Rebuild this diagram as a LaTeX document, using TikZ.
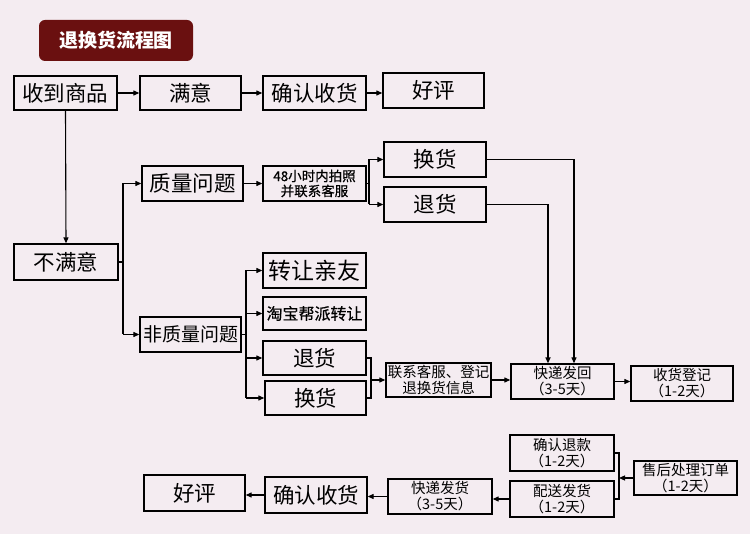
\documentclass[tikz,border=0pt]{standalone}
\usepackage{fontspec}
\newfontfamily\cjk{Noto Sans CJK SC}
\newfontfamily\cjkm[FakeBold=0.6]{Noto Sans CJK SC}
\usetikzlibrary{arrows.meta}
\definecolor{bgc}{HTML}{F4ECF1}
\definecolor{titlec}{HTML}{6A1010}
\tikzset{
  box/.style={draw=black, line width=1.3pt, fill=none, inner sep=0pt, align=center, text=black},
  big/.style={box, font=\cjk\fontsize{21.5}{23}\selectfont},
  mid/.style={box, font=\cjk\fontsize{19}{21}\selectfont},
  small/.style={box, font=\cjk\fontsize{14.5}{16}\selectfont},
  smallb/.style={box, font=\cjkm\fontsize{13.5}{15}\selectfont},
  ln/.style={draw=black, line width=1.1pt},
  arr/.style={ln, -{Triangle[length=6pt,width=5pt]}},
}
\begin{document}
\begin{tikzpicture}[x=1pt,y=-1pt]
\fill[bgc] (0,0) rectangle (750,534);
\useasboundingbox (0,0) rectangle (750,534);
% title
\node[fill=titlec, rounded corners=6pt, minimum width=154pt, minimum height=41pt, text=white, font=\cjk\bfseries\fontsize{19}{21}\selectfont] (title) at (116,40.5) {退换货流程图};
% top row
\node[big, minimum width=103pt, minimum height=34pt] (a1) at (65.5,93) {收到商品};
\node[big, minimum width=101pt, minimum height=34pt] (a2) at (190.5,93) {满意};
\node[big, minimum width=103pt, minimum height=34pt] (a3) at (314.5,93) {确认收货};
\node[big, minimum width=101pt, minimum height=35pt] (a4) at (433.5,90.5) {好评};
% left
\node[big, minimum width=104pt, minimum height=36pt] (b) at (66,262) {不满意};
\node[big, minimum width=101pt, minimum height=35pt] (q) at (192.5,183.5) {质量问题};
\node[mid, minimum width=101pt, minimum height=35pt] (nq) at (190.5,334.5) {非质量问题};
% quality branch
\node[smallb, minimum width=103pt, minimum height=35pt] (h48) at (314.5,183.5) {48小时内拍照\\并联系客服};
\node[big, minimum width=102pt, minimum height=35pt] (qh) at (435,159.5) {换货};
\node[big, minimum width=102pt, minimum height=35pt] (qt) at (435,204.5) {退货};
% non-quality branch
\node[big, font=\cjk\fontsize{23}{25}\selectfont, minimum width=103pt, minimum height=35pt] (z1) at (314.5,270.5) {转让亲友};
\node[box, font=\cjkm\fontsize{16}{18}\selectfont, minimum width=103pt, minimum height=33pt] (z2) at (314.5,313.5) {淘宝帮派转让};
\node[big, minimum width=103pt, minimum height=34pt] (z3) at (314.5,358) {退货};
\node[big, minimum width=101pt, minimum height=34pt] (z4) at (315.5,398) {换货};
\node[small, minimum width=105pt, minimum height=34pt] (lx) at (438.5,380) {联系客服、登记\\退换货信息};
\node[small, minimum width=103pt, minimum height=35pt] (kf) at (562.5,381.5) {快递发回\\（3-5天）};
\node[small, minimum width=102pt, minimum height=35pt] (sd) at (682,383.5) {收货登记\\（1-2天）};
% bottom
\node[small, minimum width=103pt, minimum height=34pt] (sh) at (685.5,478) {售后处理订单\\（1-2天）};
\node[small, minimum width=104pt, minimum height=36pt] (qr) at (562,453) {确认退款\\（1-2天）};
\node[small, minimum width=104pt, minimum height=36pt] (ps) at (562,499) {配送发货\\（1-2天）};
\node[small, minimum width=104pt, minimum height=35pt] (kh) at (440,496.5) {快递发货\\（3-5天）};
\node[big, minimum width=102pt, minimum height=36pt] (c3) at (316,495) {确认收货};
\node[big, minimum width=101pt, minimum height=36pt] (c4) at (194.5,493) {好评};
% junction coordinates
\coordinate (j1) at (123,262);
\coordinate (j2) at (369,183.5);
\coordinate (j3) at (246,334.5);
\coordinate (j4) at (371,378);
\coordinate (j5) at (619,478);
\coordinate (dq) at (548,204.5);
\coordinate (dh) at (574,159.5);
% connectors top
\draw[arr] (a1.east) -- (a2.west);
\draw[arr] (a2.east) -- (a3.west);
\draw[arr] (a3.east) -- (a3.east -| a4.west);
\draw[arr] (a1.south) -- (b.north);
% dissatisfied branch
\draw[ln] (b.east) -- (j1);
\draw[ln] (j1 |- q) -- (j1 |- nq);
\draw[arr] (j1 |- q) -- (q.west);
\draw[arr] (j1 |- nq) -- (nq.west);
% quality
\draw[arr] (q.east) -- (h48.west);
\draw[ln] (h48.east) -- (j2);
\draw[ln] (j2 |- qh) -- (j2 |- qt);
\draw[arr] (j2 |- qh) -- (qh.west);
\draw[arr] (j2 |- qt) -- (qt.west);
\draw[arr] (qh.east) -- (dh) -- (dh |- kf.north);
\draw[arr, line width=1.6pt] (qt.east) -- (dq) -- (dq |- kf.north);
% non-quality
\draw[ln] (nq.east) -- (j3);
\draw[ln] (j3 |- z1) -- (j3 |- z4);
\draw[arr] (j3 |- z1) -- (z1.west);
\draw[arr] (j3 |- z2) -- (z2.west);
\draw[arr] (j3 |- z3) -- (z3.west);
\draw[arr] (j3 |- z4) -- (z4.west);
\draw[ln] (z3.east) -- (j4 |- z3) -- (j4 |- z4) -- (z4.east);
\draw[arr] (j4 |- lx) -- (lx.west);
\draw[arr] (lx.east) -- (lx.east -| kf.west);
\draw[arr] (kf.east) -- (kf.east -| sd.west);
% bottom
\draw[ln] (qr.east) -- (j5 |- qr) -- (j5 |- ps) -- (ps.east);
\draw[arr] (sh.west) -- (j5);
\draw[arr] (ps.west) -- (ps.west -| kh.east);
\draw[arr] (kh.west) -- (kh.west -| c3.east);
\draw[arr] (c3.west) -- (c3.west -| c4.east);
\end{tikzpicture}
\end{document}
